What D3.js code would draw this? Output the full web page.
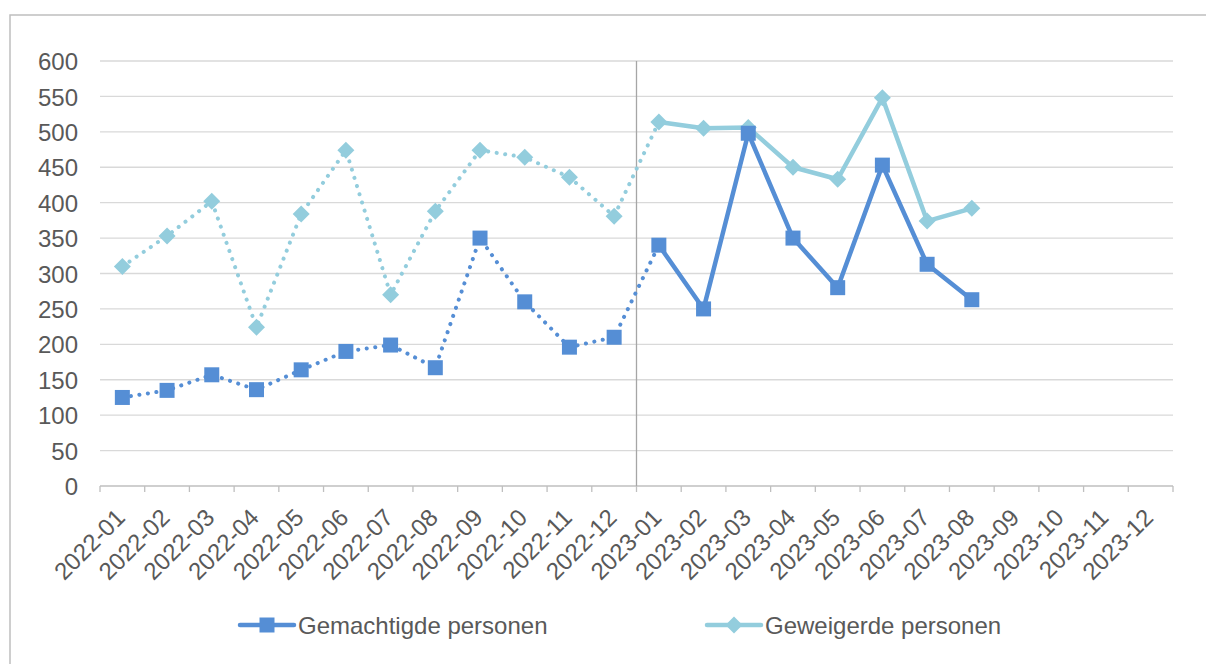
<!DOCTYPE html>
<html>
<head>
<meta charset="utf-8">
<script src="https://cdn.jsdelivr.net/npm/d3@7"></script>
<style>
  body { margin: 0; background: #fff; }
  svg { display: block; font-family: "Liberation Sans", Arial, sans-serif; }
</style>
</head>
<body>
<div id="chart"></div>
<script>
// months on the x axis
const months = ["2022-01","2022-02","2022-03","2022-04","2022-05","2022-06","2022-07","2022-08","2022-09","2022-10","2022-11","2022-12",
  "2023-01","2023-02","2023-03","2023-04","2023-05","2023-06","2023-07","2023-08","2023-09","2023-10","2023-11","2023-12"];

// values (only up to 2023-08)
const gemachtigde = [125,135,157,136,164,190,199,167,350,260,196,210,340,250,498,350,280,453,313,263];
const geweigerde  = [310,353,402,224,384,474,270,388,474,464,436,381,514,505,506,450,433,548,374,392];

const yTicks = [0,50,100,150,200,250,300,350,400,450,500,550,600];
const seriesNames = ["Gemachtigde personen", "Geweigerde personen"];
const splitIndex = 12; // dotted up to 2023-01, solid after

const colors = ["#558ed5", "#93cddd"];
const textColor = "#595959";

const W = 1206, H = 664;
const margin = {top: 61, left: 100, right: 33, bottom: 178};

const svg = d3.select("#chart").append("svg")
  .attr("width", W).attr("height", H);

// outer frame (top + left visible)
svg.append("path")
  .attr("d", `M10,${H} L10,15 L${W},15`)
  .attr("fill", "none").attr("stroke", "#bfbfbf").attr("stroke-width", 1.5);

const x = d3.scaleBand().domain(months).range([margin.left, W - margin.right]);
const y = d3.scaleLinear().domain([0, 600]).range([H - margin.bottom, margin.top]);

// gridlines
svg.append("g").selectAll("line")
  .data(yTicks.filter(d => d > 0))
  .join("line")
  .attr("x1", margin.left).attr("x2", W - margin.right)
  .attr("y1", d => y(d)).attr("y2", d => y(d))
  .attr("stroke", "#d9d9d9").attr("stroke-width", 1.3);

// y axis labels
const yAxis = d3.axisLeft(y).tickValues(yTicks).tickSize(0).tickPadding(22);
svg.append("g")
  .attr("transform", `translate(${margin.left},0)`)
  .call(yAxis)
  .call(g => g.select(".domain").remove())
  .selectAll("text")
  .attr("fill", textColor).style("font-size", "24px")
  .style("font-family", "'Liberation Sans', Arial, sans-serif")
  .attr("dy", "0.36em");

// x axis with ticks at band boundaries
const xBase = y(0);
svg.append("line")
  .attr("x1", margin.left).attr("x2", W - margin.right)
  .attr("y1", xBase).attr("y2", xBase)
  .attr("stroke", "#bfbfbf").attr("stroke-width", 1.3);

const boundaries = months.map(m => x(m)).concat([x.range()[1]]);
svg.append("g").selectAll("line")
  .data(boundaries)
  .join("line")
  .attr("x1", d => d).attr("x2", d => d)
  .attr("y1", xBase).attr("y2", xBase + 6)
  .attr("stroke", "#bfbfbf").attr("stroke-width", 1.3);

svg.append("g").selectAll("text")
  .data(months)
  .join("text")
  .attr("transform", d => `translate(${x(d) + x.bandwidth() / 2 - 8},${xBase + 21}) rotate(-45)`)
  .attr("text-anchor", "end")
  .attr("dy", "0.71em")
  .attr("fill", textColor)
  .style("font-size", "24px")
  .text(d => d);

// vertical separator between 2022 and 2023
svg.append("line")
  .attr("x1", x(months[splitIndex])).attr("x2", x(months[splitIndex]))
  .attr("y1", margin.top).attr("y2", xBase)
  .attr("stroke", "#a6a6a6").attr("stroke-width", 1.3);

const cx = i => x(months[i]) + x.bandwidth() / 2;
const line = d3.line().x(d => cx(d.i)).y(d => y(d.v));

function drawSeries(values, color, shape) {
  const pts = values.map((v, i) => ({i, v}));
  const g = svg.append("g");
  g.append("path")
    .datum(pts.slice(0, splitIndex + 1))
    .attr("d", line)
    .attr("fill", "none").attr("stroke", color)
    .attr("stroke-width", 4).attr("stroke-linecap", "round")
    .attr("stroke-dasharray", "0.1,8.5");
  g.append("path")
    .datum(pts.slice(splitIndex))
    .attr("d", line)
    .attr("fill", "none").attr("stroke", color)
    .attr("stroke-width", 4.5).attr("stroke-linejoin", "round");
  g.selectAll("path.marker")
    .data(pts)
    .join("path")
    .attr("class", "marker")
    .attr("transform", d => `translate(${cx(d.i)},${y(d.v)})`)
    .attr("d", shape)
    .attr("fill", color);
}

const square = "M-7.5,-7.5H7.5V7.5H-7.5Z";
const diamond = "M0,-8.5L8.5,0L0,8.5L-8.5,0Z";

drawSeries(geweigerde, colors[1], diamond);
drawSeries(gemachtigde, colors[0], square);

// legend
const legendY = 625;
const legend = [
  {name: seriesNames[0], x0: 240, color: colors[0], shape: square},
  {name: seriesNames[1], x0: 707, color: colors[1], shape: diamond}
];
legend.forEach(l => {
  svg.append("line")
    .attr("x1", l.x0).attr("x2", l.x0 + 54)
    .attr("y1", legendY).attr("y2", legendY)
    .attr("stroke", l.color).attr("stroke-width", 4.5).attr("stroke-linecap", "round");
  svg.append("path")
    .attr("transform", `translate(${l.x0 + 27},${legendY})`)
    .attr("d", l.shape).attr("fill", l.color);
  svg.append("text")
    .attr("x", l.x0 + 58).attr("y", legendY)
    .attr("dy", "0.36em")
    .attr("fill", textColor)
    .style("font-size", "24px")
    .text(l.name);
});
</script>
</body>
</html>
